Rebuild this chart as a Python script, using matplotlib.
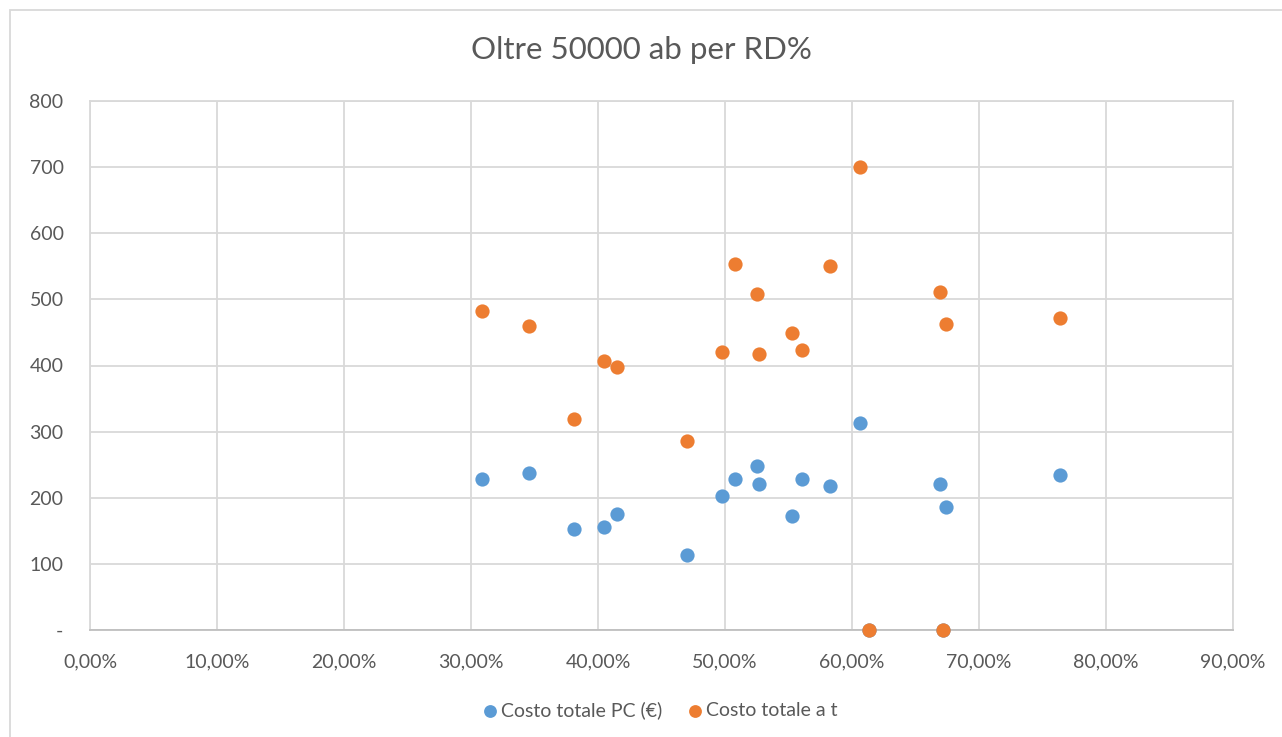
import matplotlib.pyplot as plt
from matplotlib.patches import Rectangle
from matplotlib.ticker import FuncFormatter, MultipleLocator

plt.rcParams['font.family'] = ['Lato', 'DejaVu Sans']

# RD% per comune (oltre 50000 abitanti)
rd = [0.3087, 0.3457, 0.3810, 0.4050, 0.4150, 0.4700, 0.4980, 0.5080,
      0.5250, 0.5270, 0.5530, 0.5610, 0.5830, 0.6060, 0.6130, 0.6690,
      0.6720, 0.6740, 0.7640]
costo_pc = [228, 237, 153, 156, 175, 113, 203, 228,
            248, 221, 172, 228, 218, 313, 0, 221,
            0, 186, 234]
costo_t = [482, 460, 319, 407, 398, 286, 420, 553,
           508, 417, 449, 423, 550, 700, 0, 511,
           0, 463, 472]

fig = plt.figure(figsize=(12.82, 7.37), dpi=100)
ax = fig.add_axes([90 / 1282, 107 / 737, 1143 / 1282, 529 / 737])

ax.scatter(rd, costo_pc, s=105, color='#5B9BD5', label='Costo totale PC (€)',
           zorder=3, clip_on=False, linewidths=0)
ax.scatter(rd, costo_t, s=105, color='#ED7D31', label='Costo totale a t',
           zorder=4, clip_on=False, linewidths=0)

ax.set_xlim(0, 0.9)
ax.set_ylim(0, 800)
ax.xaxis.set_major_locator(MultipleLocator(0.1))
ax.yaxis.set_major_locator(MultipleLocator(100))
ax.xaxis.set_major_formatter(FuncFormatter(
    lambda v, p: f"{v * 100:.2f}%".replace('.', ',')))
ax.yaxis.set_major_formatter(FuncFormatter(
    lambda v, p: '-' if abs(v) < 1e-9 else f"{v:.0f}"))

ax.grid(True, color='#d9d9d9', linewidth=1.3, zorder=0)
ax.set_axisbelow(True)
for s in ax.spines.values():
    s.set_color('#d9d9d9')
    s.set_linewidth(1.3)
ax.spines['bottom'].set_color('#bfbfbf')
ax.tick_params(length=0, labelsize=14, labelcolor='#595959')
ax.tick_params(axis='x', pad=17)
ax.tick_params(axis='y', pad=19)

fig.text(0.5, 1 - 50 / 737, 'Oltre 50000 ab per RD%', ha='center', va='center',
         fontsize=22.5, color='#595959')

fig.legend(loc='center', bbox_to_anchor=(0.515, 1 - 710 / 737), ncol=2,
           frameon=False, fontsize=14, labelcolor='#595959',
           handlelength=0.7, handletextpad=0.25, columnspacing=1.3,
           markerscale=0.9)

# cornice del grafico
fig.patches.append(Rectangle((10 / 1282, -0.05), 1.2, 1 - 10 / 737 + 0.05,
                             transform=fig.transFigure, fill=False,
                             edgecolor='#d9d9d9', linewidth=1.3))

fig.savefig('out.png', dpi=100)
